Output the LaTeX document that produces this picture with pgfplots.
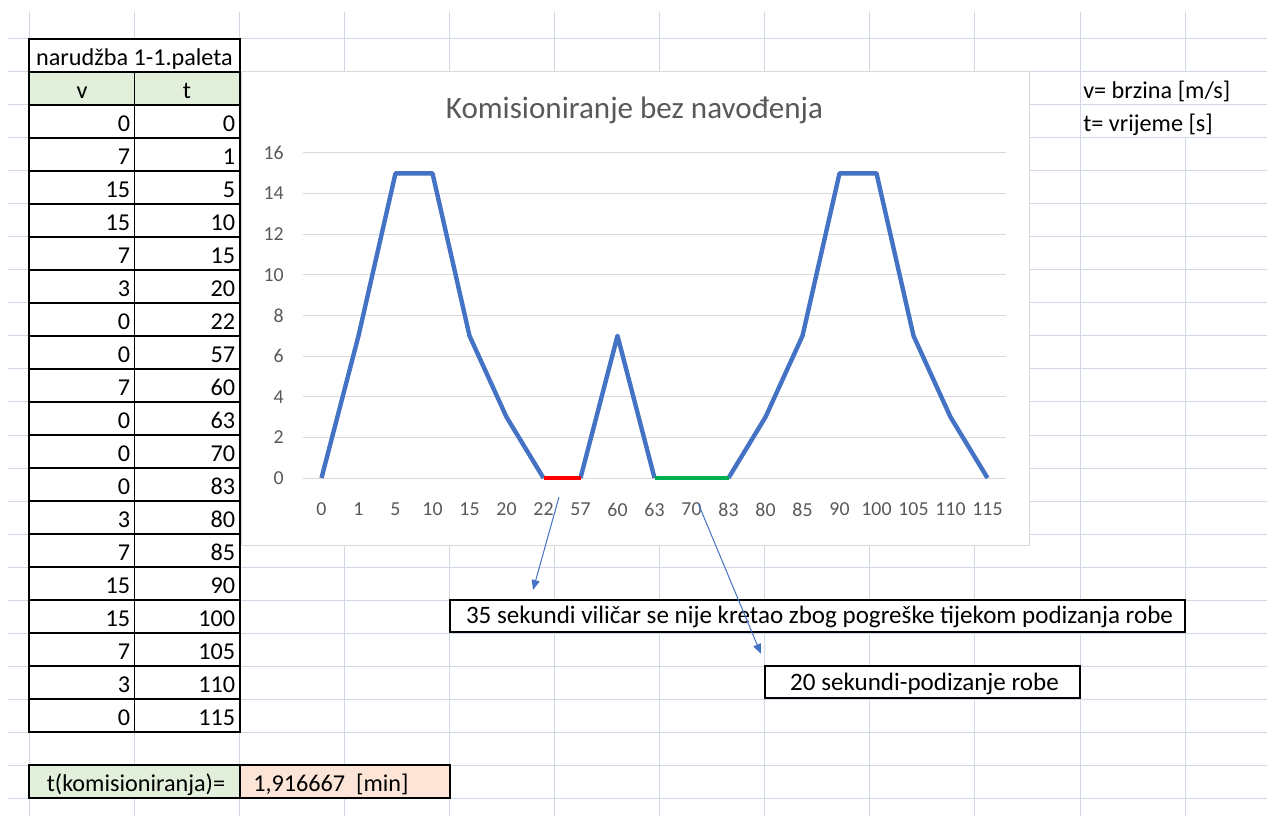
\documentclass[border=0pt]{standalone}
\usepackage{fontspec}
\setmainfont{Carlito}
\usepackage{pgfplots}
\pgfplotsset{compat=1.18}
\usetikzlibrary{arrows.meta}
\definecolor{gridc}{RGB}{208,215,229}
\definecolor{chartgrid}{RGB}{217,217,217}
\definecolor{txtgray}{RGB}{89,89,89}
\definecolor{xlblue}{RGB}{68,114,196}
\definecolor{hdrgreen}{RGB}{226,239,218}
\definecolor{cellpink}{RGB}{252,228,214}
\definecolor{xlgreen}{RGB}{0,176,80}
\newcommand\cellfont{\fontsize{18.15pt}{22pt}\selectfont}
\newcommand\boxfont{\fontsize{18.8pt}{22pt}\selectfont}
\begin{document}
\begin{tikzpicture}
\begin{scope}[x=0.75pt,y=-0.75pt]
\path[use as bounding box] (0,0) rectangle (1267,816);
\fill[white] (0,0) rectangle (1267,816);
% spreadsheet grid
\foreach \k in {0,...,23} \draw[gridc, line width=0.75pt] (8,{39+33*\k}) -- (1267,{39+33*\k});
\foreach \j in {0,...,10} \draw[gridc, line width=0.75pt] ({29+105.1*\j},12) -- ({29+105.1*\j},816);
\draw[gridc, line width=0.75pt] (1185,12) -- (1185,72);
\draw[gridc, line width=0.75pt] (1185,138) -- (1185,816);
% table
\fill[white] (29,39) rectangle (240,732);
\fill[hdrgreen] (29,72) rectangle (240,105);
\foreach \k in {1,...,20} \draw[black, line width=0.9pt] (29,{39+33*\k}) -- (240,{39+33*\k});
\draw[black, line width=0.9pt] (134.5,72) -- (134.5,732);
\draw[black, line width=0.9pt] (29,39) rectangle (240,732);
\node[anchor=base, inner sep=0pt, font=\cellfont] at (134.5,65.5) {narudžba 1-1.paleta};
\node[anchor=base, inner sep=0pt, font=\cellfont] at (82,98.5) {v};
\node[anchor=base, inner sep=0pt, font=\cellfont] at (187,98.5) {t};
\foreach \v/\t [count=\i from 0] in {0/0,7/1,15/5,15/10,7/15,3/20,0/22,0/57,7/60,0/63,0/70,0/83,3/80,7/85,15/90,15/100,7/105,3/110,0/115} {
  \node[anchor=base east, inner sep=0pt, font=\cellfont] at (130.5,{39+33*(\i+3)-6.5}) {\v};
  \node[anchor=base east, inner sep=0pt, font=\cellfont] at (235.5,{39+33*(\i+3)-6.5}) {\t};
}
\fill[hdrgreen] (29,765) rectangle (240,798);
\draw[black, line width=0.9pt] (29,765) rectangle (240,798);
\fill[cellpink] (240,765) rectangle (450,798);
\draw[black, line width=1.6pt] (240,765) rectangle (450,798);
\node[anchor=base, inner sep=0pt, font=\cellfont] at (136,791.5) {t(komisioniranja)=};
\node[anchor=base west, inner sep=0pt, font=\cellfont] at (253,791.5) {1,916667 \ [min]};
% notes
\node[anchor=base west, inner sep=0pt, font=\cellfont] at (1083,98.5) {v= brzina [m/s]};
\node[anchor=base west, inner sep=0pt, font=\cellfont] at (1083,131.5) {t= vrijeme [s]};
% chart area
\fill[white] (241,72) rectangle (1029,545);
\draw[chartgrid, line width=0.75pt] (241,72) rectangle (1029,545);
\node[anchor=base, inner sep=0pt, text=txtgray, font=\fontsize{23.3pt}{26pt}\selectfont] at (634.5,119) {Komisioniranje bez navođenja};
\coordinate (P) at (303,478);
\end{scope}
\begin{axis}[
  at={(P)}, anchor=south west, scale only axis,
  width=527.25pt, height=243.75pt,
  xmin=-0.5, xmax=18.5, ymin=0, ymax=16,
  enlargelimits=false, clip=false,
  axis line style={draw=none}, tick style={draw=none},
  ymajorgrids, grid style={chartgrid, line width=0.75pt},
  ytick={0,2,...,16},
  xtick={0,...,18},
  xticklabels={0,1,5,10,15,20,22,57,60,63,70,83,80,85,90,100,105,110,115},
  tick label style={text=txtgray, font=\fontsize{14.85pt}{16pt}\selectfont, inner sep=0pt},
  yticklabel style={anchor=east, xshift=-14.25pt},
  xticklabel style={anchor=north, yshift=-18.5pt},
  /pgf/number format/assume math mode=true,
  no markers,
]
\addplot[xlblue, line width=3.3pt, line join=round] coordinates {(0,0)(1,7)(2,15)(3,15)(4,7)(5,3)(6,0)};
\addplot[xlblue, line width=3.3pt, line join=round] coordinates {(7,0)(8,7)(9,0)};
\addplot[xlblue, line width=3.3pt, line join=round] coordinates {(11,0)(12,3)(13,7)(14,15)(15,15)(16,7)(17,3)(18,0)};
\addplot[red, line width=2.3pt] coordinates {(6,0)(7,0)};
\addplot[xlgreen, line width=2.3pt] coordinates {(9,0)(11,0)};
\end{axis}
\begin{scope}[x=0.75pt,y=-0.75pt]
\draw[black, fill=white, line width=0.9pt] (450,600) rectangle (1185,632);
\node[anchor=base, inner sep=0pt, font=\boxfont] at (819.5,623.5) {35 sekundi viličar se nije kretao zbog pogreške tijekom podizanja robe};
\draw[black, fill=white, line width=0.9pt] (765,666) rectangle (1080,698);
\node[anchor=base, inner sep=0pt, font=\boxfont] at (924.5,690) {20 sekundi-podizanje robe};
\draw[xlblue, line width=0.75pt, -{Triangle[length=7.5pt,width=6pt]}] (559,497) -- (533,590);
\draw[xlblue, line width=0.75pt, -{Triangle[length=7.5pt,width=6pt]}] (698,503) -- (761,654);
\end{scope}
\end{tikzpicture}
\end{document}
